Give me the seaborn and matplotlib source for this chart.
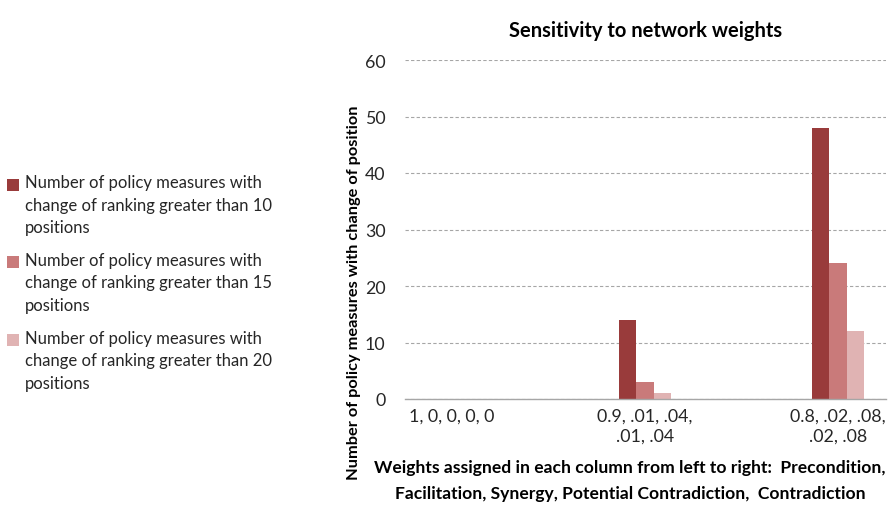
import matplotlib
matplotlib.use("Agg")
import matplotlib.pyplot as plt
from matplotlib.patches import Rectangle
from matplotlib.legend_handler import HandlerPatch
import seaborn as sns
import pandas as pd

categories = ["1, 0, 0, 0, 0", "0.9, .01, .04,\n.01, .04", "0.8, .02, .08,\n.02, .08"]
series_names = [
    "Number of policy measures with\nchange of ranking greater than 10\npositions",
    "Number of policy measures with\nchange of ranking greater than 15\npositions",
    "Number of policy measures with\nchange of ranking greater than 20\npositions",
]
values_gt10 = [0, 14, 48]
values_gt15 = [0, 3, 24]
values_gt20 = [0, 1, 12]
colors = ["#993B3B", "#C97A7A", "#E0B3B3"]

rows = []
for name, vals in zip(series_names, [values_gt10, values_gt15, values_gt20]):
    for c, v in zip(categories, vals):
        rows.append({"category": c, "series": name, "value": v})
df = pd.DataFrame(rows)

sns.set_theme(style="white")
plt.rcParams["font.family"] = ["Lato", "DejaVu Sans"]

fig = plt.figure(figsize=(8.93, 5.06), dpi=100)
ax = fig.add_axes([405 / 893, 1 - 400 / 506, 481 / 893, 339 / 506])

sns.barplot(data=df, x="category", y="value", hue="series", order=categories,
            hue_order=series_names, palette=colors, width=0.27, saturation=1,
            linewidth=0, ax=ax, legend=True)

ax.set_ylim(0, 60)
ax.set_yticks(range(0, 61, 10))
ax.set_xlim(-0.2435, 2.249)
ax.yaxis.grid(True, linestyle=(0, (3, 2)), color="#A6A6A6", linewidth=0.8)
ax.set_axisbelow(True)
for s in ["top", "right", "left"]:
    ax.spines[s].set_visible(False)
ax.spines["bottom"].set_color("#A6A6A6")
ax.spines["bottom"].set_linewidth(1.0)
ax.tick_params(axis="both", length=0, labelsize=12.8, colors="#262626", pad=6)
ax.tick_params(axis="y", pad=14)
for t in ax.get_xticklabels():
    t.set_linespacing(1.35)

ax.set_title("Sensitivity to network weights", fontsize=14.5, fontweight="bold",
             pad=17, color="black")
ax.set_ylabel("Number of policy measures with change of position", fontsize=11.8,
              fontweight="bold", color="black")
ax.yaxis.set_label_coords(-0.092, 0.315)
ax.set_xlabel("Weights assigned in each column from left to right:  Precondition,\n"
              "Facilitation, Synergy, Potential Contradiction,  Contradiction",
              fontsize=12.6, fontweight="bold", color="black", linespacing=1.75)
ax.xaxis.set_label_coords(0.468, -0.178)

LEG_FS = 12
LEG_LS = 1.5


def make_patch(legend, orig_handle, xdescent, ydescent, width, height, fontsize):
    shift = LEG_FS * LEG_LS * 0.83
    return Rectangle((-xdescent, -ydescent + shift), width, height)


handles, labels = ax.get_legend_handles_labels()
ax.get_legend().remove()
leg = fig.legend(handles, labels, loc="center left", bbox_to_anchor=(-0.009, 0.44),
                 frameon=False, fontsize=LEG_FS, handlelength=0.75, handleheight=0.75,
                 handletextpad=0.35, labelspacing=1.0, labelcolor="#262626",
                 handler_map={h: HandlerPatch(patch_func=make_patch) for h in handles})
for t in leg.get_texts():
    t.set_linespacing(LEG_LS)

fig.savefig("out.png", dpi=100)
